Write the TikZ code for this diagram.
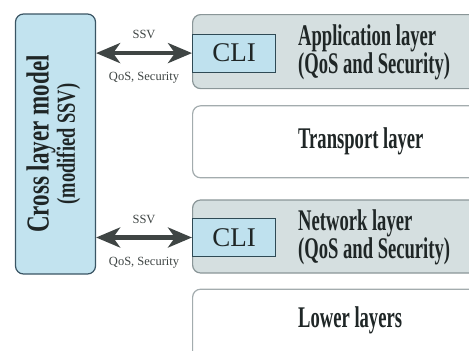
\documentclass[tikz,border=0pt]{standalone}
\usepackage{fontspec}
\setmainfont{Liberation Serif}
\usepackage{graphicx}
\usetikzlibrary{arrows.meta,positioning}

\definecolor{modelfill}{HTML}{C2E3EF}
\definecolor{modeldraw}{HTML}{3A5564}
\definecolor{layerfill}{HTML}{D5DFE0}
\definecolor{layerdraw}{HTML}{8A9698}
\definecolor{plaindraw}{HTML}{A3ACAE}
\definecolor{clifill}{HTML}{BFE1EE}
\definecolor{clidraw}{HTML}{2F4A55}
\definecolor{arrowgray}{HTML}{3F4544}
\definecolor{inkgray}{HTML}{1F2626}

\newcommand{\narrow}[2]{\scalebox{#1}[1]{#2}}

\tikzset{
  modelbox/.style={draw=modeldraw, fill=modelfill, line width=1.2pt, rounded corners=8pt,
    minimum width=80pt, minimum height=260pt, inner sep=0pt},
  layer/.style={draw=layerdraw, fill=layerfill, line width=1.2pt, rounded corners=8pt,
    minimum width=300pt, inner sep=0pt},
  plainlayer/.style={layer, draw=plaindraw, fill=white},
  clibox/.style={draw=clidraw, fill=clifill, line width=1.2pt, minimum width=83pt,
    minimum height=38pt, inner sep=0pt, anchor=west, font=\fontsize{27}{27}\selectfont, text=inkgray},
  layertext/.style={anchor=west, align=left, inner sep=0pt, text=inkgray,
    font=\fontsize{30}{28}\selectfont\bfseries},
  biarrow/.style={draw=arrowgray, line width=4.5pt,
    {Stealth[length=24pt,width=20pt,inset=7pt]}-{Stealth[length=24pt,width=20pt,inset=7pt]}},
  smalllabel/.style={inner sep=0pt, text=arrowgray, font=\fontsize{12.5}{13}\selectfont}
}

\begin{document}
\begin{tikzpicture}[x=1pt, y=-1pt]
  \useasboundingbox (0,0) rectangle (469,351);
  \clip (0,0) rectangle (469,351);

  % Cross layer model on the left
  \node[modelbox] (model) at (55.5,144) {};
  \node[rotate=90, align=center, inner sep=0pt, text=inkgray] (modeltext) at ([xshift=-2pt]model.center)
    {\fontsize{32}{24}\selectfont\bfseries\narrow{0.72}{Cross layer model}\\
     \fontsize{26}{24}\selectfont\bfseries\narrow{0.71}{(modified SSV)}};

  % Layer stack
  \node[layer, minimum height=74pt, anchor=north west] (app) at (192,14) {};
  \node[plainlayer, minimum height=72pt, below=16pt of app] (trans) {};
  \node[layer, minimum height=73pt, below=21pt of trans] (net) {};
  \node[plainlayer, minimum height=80pt, below=15pt of net] (low) {};

  % Layer names
  \node[layertext] (apptext) at ([xshift=106pt,yshift=-1pt]app.west)
    {\narrow{0.62}{Application layer}\\\narrow{0.62}{(QoS and Security)}};
  \node[layertext] (transtext) at ([xshift=106pt]trans.west) {\narrow{0.62}{Transport layer}};
  \node[layertext] (nettext) at ([xshift=106pt,yshift=-1pt]net.west)
    {\narrow{0.62}{Network layer}\\\narrow{0.62}{(QoS and Security)}};
  \node[layertext] (lowtext) at ([xshift=106pt,yshift=-32pt]low.north west) {\narrow{0.62}{Lower layers}};

  % CLI boxes
  \node[clibox] (cliapp) at ([yshift=-1.5pt]app.west) {CLI};
  \node[clibox] (clinet) at ([yshift=-1pt]net.west) {CLI};

  % Arrows between model and CLI
  \draw[biarrow] (model.east |- cliapp.west) -- (cliapp.west)
    node[midway, above=12pt, smalllabel] {SSV}
    node[midway, below=17pt, smalllabel] {QoS, Security};
  \draw[biarrow] (model.east |- clinet.west) -- (clinet.west)
    node[midway, above=12pt, smalllabel] {SSV}
    node[midway, below=17pt, smalllabel] {QoS, Security};
\end{tikzpicture}
\end{document}
